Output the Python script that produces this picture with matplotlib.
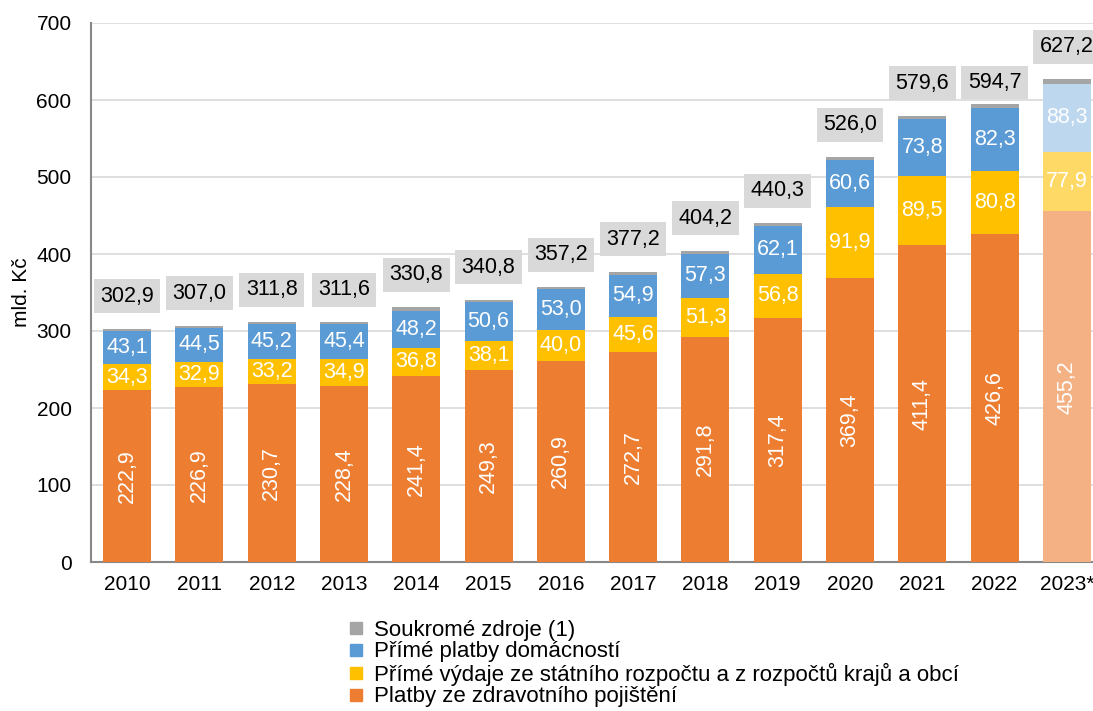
import matplotlib.pyplot as plt
import numpy as np
from matplotlib.lines import Line2D

years = ['2010', '2011', '2012', '2013', '2014', '2015', '2016', '2017',
         '2018', '2019', '2020', '2021', '2022', '2023*']
pojisteni = [222.9, 226.9, 230.7, 228.4, 241.4, 249.3, 260.9, 272.7,
             291.8, 317.4, 369.4, 411.4, 426.6, 455.2]
rozpocet = [34.3, 32.9, 33.2, 34.9, 36.8, 38.1, 40.0, 45.6,
            51.3, 56.8, 91.9, 89.5, 80.8, 77.9]
domacnosti = [43.1, 44.5, 45.2, 45.4, 48.2, 50.6, 53.0, 54.9,
              57.3, 62.1, 60.6, 73.8, 82.3, 88.3]
celkem = [302.9, 307.0, 311.8, 311.6, 330.8, 340.8, 357.2, 377.2,
          404.2, 440.3, 526.0, 579.6, 594.7, 627.2]
soukrome = [round(c - a - b - d, 1) for c, a, b, d in zip(celkem, pojisteni, rozpocet, domacnosti)]

labels = ['Soukromé zdroje (1)', 'Přímé platby domácností',
          'Přímé výdaje ze státního rozpočtu a z rozpočtů krajů a obcí',
          'Platby ze zdravotního pojištění']

c_or, c_ye, c_bl, c_gr = '#ED7D31', '#FFC000', '#5B9BD5', '#A5A5A5'
c_or2, c_ye2, c_bl2, c_gr2 = '#F4B183', '#FFD966', '#BDD7EE', '#A5A5A5'

def fmt(v):
    return f'{v:.1f}'.replace('.', ',')

plt.rcParams['font.family'] = ['Liberation Sans', 'DejaVu Sans']
fig = plt.figure(figsize=(10.93, 7.11), dpi=100)
ax = fig.add_axes([91 / 1093, 149 / 711, 1012 / 1093, 539 / 711])

x = np.arange(len(years))
w = 0.665
last = len(years) - 1
for i in x:
    est = i == last
    cols = [c_or2, c_ye2, c_bl2, c_gr2] if est else [c_or, c_ye, c_bl, c_gr]
    vals = [pojisteni[i], rozpocet[i], domacnosti[i], soukrome[i]]
    bottom = 0
    for k, (v, c) in enumerate(zip(vals, cols)):
        ax.bar(i, v, w, bottom=bottom, color=c, zorder=3)
        if k == 0:
            ax.text(i, bottom + v / 2, fmt(v), color='white', fontsize=15.5,
                    rotation=90, ha='center', va='center', zorder=4)
        elif k in (1, 2):
            ax.text(i, bottom + v / 2, fmt(v), color='white', fontsize=15.5,
                    ha='center', va='center', zorder=4)
        bottom += v
    off = 28 if years[i] == '2022' else 42
    ax.text(i, celkem[i] + off, fmt(celkem[i]), fontsize=15.5, ha='center', va='center',
            zorder=5, bbox=dict(boxstyle='square,pad=0.3', fc='#D9D9D9', ec='none'))

ax.set_xlim(-0.5, len(years) - 0.5)
ax.set_ylim(0, 700)
ax.set_yticks(range(0, 701, 100))
ax.set_xticks(x)
ax.set_xticklabels(years)
ax.tick_params(labelsize=15, length=0)
ax.tick_params(axis='y', pad=14)
ax.tick_params(axis='x', pad=9)
ax.grid(axis='y', color='#D9D9D9', linewidth=1.2, zorder=0)
for s in ['top', 'right']:
    ax.spines[s].set_visible(False)
ax.spines['left'].set_color('#888888')
ax.spines['bottom'].set_color('#888888')
ax.spines['left'].set_linewidth(1.5)
ax.spines['bottom'].set_linewidth(1.5)
ax.set_ylabel('mld. Kč', fontsize=15, labelpad=4)

handles = [Line2D([], [], marker='s', linestyle='none', markersize=8, color=c)
           for c in [c_gr, c_bl, c_ye, c_or]]
fig.legend(handles, labels, loc='upper left', bbox_to_anchor=(336 / 1093, 1 - 611 / 711),
           frameon=False, fontsize=16, handletextpad=0.3, labelspacing=0.02,
           handlelength=1.0, borderaxespad=0)

plt.savefig('out.png', dpi=100)
